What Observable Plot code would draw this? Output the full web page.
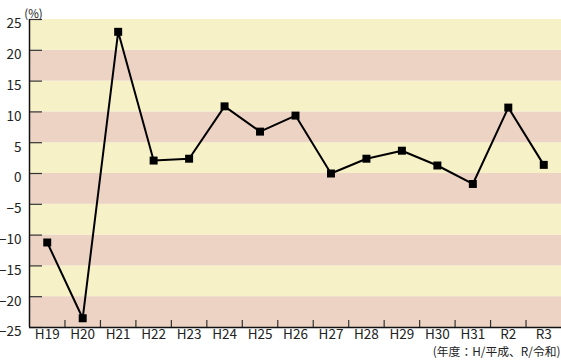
<!DOCTYPE html>
<html><head><meta charset="utf-8">
<script src="https://cdn.jsdelivr.net/npm/d3@7"></script>
<script src="https://cdn.jsdelivr.net/npm/@observablehq/plot@0.6"></script>
<style>body{margin:0;background:#fff;} svg{display:block;}</style>
</head><body><div id="chart"></div>
<script>
const categories = ["H19","H20","H21","H22","H23","H24","H25","H26","H27","H28","H29","H30","H31","R2","R3"];
const values = [-11.2, -23.5, 23.0, 2.1, 2.4, 10.9, 6.8, 9.4, 0.0, 2.4, 3.7, 1.3, -1.7, 10.7, 1.4];
const yTicks = [-25,-20,-15,-10,-5,0,5,10,15,20,25];
const stripeStarts = [-25,-20,-15,-10,-5,0,5,10,15,20];
const unitLabel = "(%)";
const caption = "(年度：H/平成、R/令和)";

const data = categories.map((c, i) => ({i, c, v: values[i]}));
const stripes = stripeStarts.map((s, k) => ({y1: s, y2: s + 5, fill: k % 2 === 0 ? "#ecd3c4" : "#f6f1c6"}));
const boundaries = categories.slice(1).map((_, i) => i + 0.5);

const font = "'Noto Sans CJK JP', 'Noto Sans', sans-serif";
const chart = Plot.plot({
  width: 561, height: 364,
  marginTop: 19, marginBottom: 37, marginLeft: 29, marginRight: 0,
  style: {fontFamily: font, fontSize: "13.5px", color: "#222", background: "#fff"},
  x: {type: "linear", domain: [-0.5, categories.length - 0.5], axis: null, label: null},
  y: {domain: [-25, 25], axis: null, label: null},
  marks: [
    Plot.rectY(stripes, {y1: "y1", y2: "y2", fill: "fill"}),
    Plot.axisY({ticks: yTicks, label: null, tickSize: -13, tickPadding: 21, stroke: "#333", strokeWidth: 1.2, tickFormat: () => ""}),
    Plot.axisY({ticks: yTicks, label: null, tickSize: 0, tickPadding: 8, dy: 4.5, fill: "#222", fontSize: 13.5}),
    Plot.axisX({ticks: boundaries, label: null, tickSize: -7, tickFormat: () => "", stroke: "#333", strokeWidth: 1.2}),
    Plot.axisX({ticks: d3.range(categories.length), label: null, tickSize: 0, tickPadding: 2, tickFormat: i => categories[i], fill: "#222", fontSize: 13.5}),
    Plot.ruleX([-0.5], {stroke: "#111", strokeWidth: 1.5}),
    Plot.ruleY([-25], {stroke: "#111", strokeWidth: 1.5}),
    Plot.line(data, {x: "i", y: "v", stroke: "#000", strokeWidth: 2}),
    Plot.dot(data, {x: "i", y: "v", symbol: "square", r: 4.5, fill: "#000"}),
    Plot.text([unitLabel], {frameAnchor: "top-left", dx: 4, dy: -10, textAnchor: "middle", fontSize: 11.5, fill: "#222"}),
    Plot.text([caption], {frameAnchor: "bottom-right", dx: -1, dy: 28.5, textAnchor: "end", fontSize: 11.8, fill: "#222"})
  ]
});
document.getElementById("chart").appendChild(chart);
</script></body></html>
